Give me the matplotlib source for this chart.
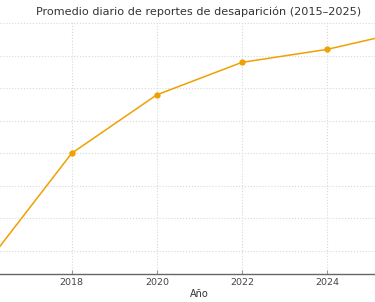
import matplotlib
matplotlib.use("Agg")
import matplotlib.pyplot as plt

# Data (y-scale is not visible, values in grid units)
years = [2016, 2018, 2020, 2022, 2024, 2026]
promedio = [13.2, 20.0, 23.6, 25.6, 26.4, 27.6]
xticks = [2018, 2020, 2022, 2024]
xtick_labels = ["2018", "2020", "2022", "2024"]
yticks = [14, 16, 18, 20, 22, 24, 26, 28]

title = "Promedio diario de reportes de desaparición (2015–2025)"
xlabel = "Año"

fig = plt.figure(figsize=(3.75, 3.02), dpi=100)
ax = fig.add_axes([0.0, 28 / 302, 1.0, (274 - 21) / 302])

ax.plot(years, promedio, color="#f0a000", linewidth=1.1, marker="o",
        markersize=3.5, clip_on=True)

ax.set_xlim(2016.315, 2025.128)
ax.set_ylim(12.56, 28.15)
ax.set_xticks(xticks)
ax.set_xticklabels(xtick_labels)
ax.set_yticks(yticks)
ax.tick_params(axis="y", left=False, labelleft=False)
ax.tick_params(axis="x", direction="in", length=3, width=0.8, color="#999999",
               labelsize=6.8, labelcolor="#444444", pad=3)

ax.grid(True, color="#d8d8d8", linestyle=":", linewidth=0.8)
ax.set_axisbelow(True)

for s in ["top", "right", "left"]:
    ax.spines[s].set_visible(False)
ax.spines["bottom"].set_color("#666666")
ax.spines["bottom"].set_linewidth(1.0)

ax.set_xlabel(xlabel, fontsize=7, color="#333333", labelpad=1)
ax.xaxis.label.set_x(199 / 375)
ax.set_title(title, fontsize=8.1, color="#333333", x=199 / 375, pad=4.5)

fig.savefig("out.png", dpi=100)
